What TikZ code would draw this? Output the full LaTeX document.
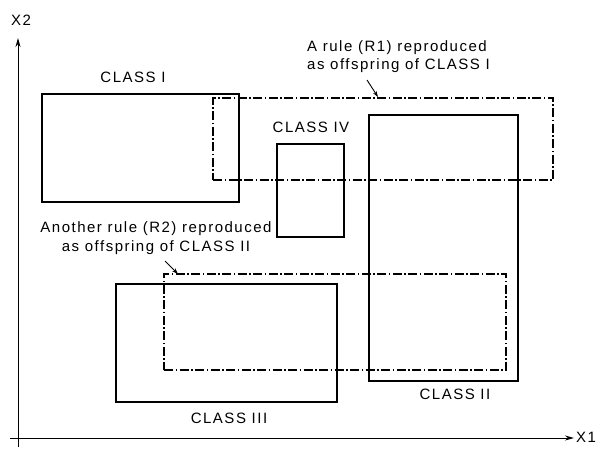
\documentclass[tikz,border=0pt]{standalone}
\usepackage{fontspec}
\setmainfont{Liberation Sans}[LetterSpace=10]
\usetikzlibrary{arrows.meta}
\tikzset{
  cls/.style={draw, line width=1.2pt, inner sep=0pt, outer sep=0pt, anchor=north west},
  rulebox/.style={draw, line width=1.2pt, inner sep=0pt, outer sep=0pt, anchor=north west,
    dash pattern=on 9pt off 2.5pt on 1.5pt off 2.5pt},
  axis/.style={line width=1pt, -{Stealth[length=9pt,width=5pt]}},
  ptr/.style={line width=0.9pt, -{Stealth[length=6pt,width=4pt]}},
  lbl/.style={inner sep=0pt},
}
\begin{document}
\begin{tikzpicture}[x=1pt,y=-1pt,font=\fontsize{15}{18.5}\selectfont]
\useasboundingbox (0,0) rectangle (598,448);
% axes
\coordinate (ybot) at (18,447);
\coordinate (ytop) at (18,38);
\coordinate (xleft) at (10,438);
\coordinate (xright) at (574,438);
\draw[axis] (ybot) -- (ytop);
\draw[axis] (xleft) -- (xright);
\node[lbl] (x2) at (21,20) {X2};
\node[lbl, anchor=west] (x1) at (576,437) {X1};
% classes
\node[cls, minimum width=197pt, minimum height=108pt] (c1) at (42,94) {};
\node[cls, minimum width=67pt, minimum height=93pt] (c4) at (277,144) {};
\node[cls, minimum width=149pt, minimum height=266pt] (c2) at (369,115) {};
\node[cls, minimum width=221pt, minimum height=118pt] (c3) at (116,284) {};
% rules
\node[rulebox, minimum width=340pt, minimum height=82pt] (r1) at (213,98) {};
\node[rulebox, minimum width=342pt, minimum height=96pt] (r2) at (164,274) {};
% class labels
\node[lbl] (l1) at (133,77) {CLASS I};
\node[lbl] (l4) at (311,127) {CLASS IV};
\node[lbl] (l2) at (455,394) {CLASS II};
\node[lbl] (l3) at (229,418) {CLASS III};
% rule labels
\node[lbl, align=left, anchor=north west] (t1) at (307,40) {A rule (R1) reproduced\\as offspring of CLASS I};
\node[lbl, align=center] (t2) at (156,238) {Another rule (R2) reproduced\\as offspring of CLASS II};
\coordinate (a1s) at (367,80);
\coordinate (a1e) at (378,97);
\coordinate (a2s) at (165,261);
\coordinate (a2e) at (178,274);
\draw[ptr] (a1s) -- (a1e);
\draw[ptr] (a2s) -- (a2e);
\end{tikzpicture}
\end{document}
